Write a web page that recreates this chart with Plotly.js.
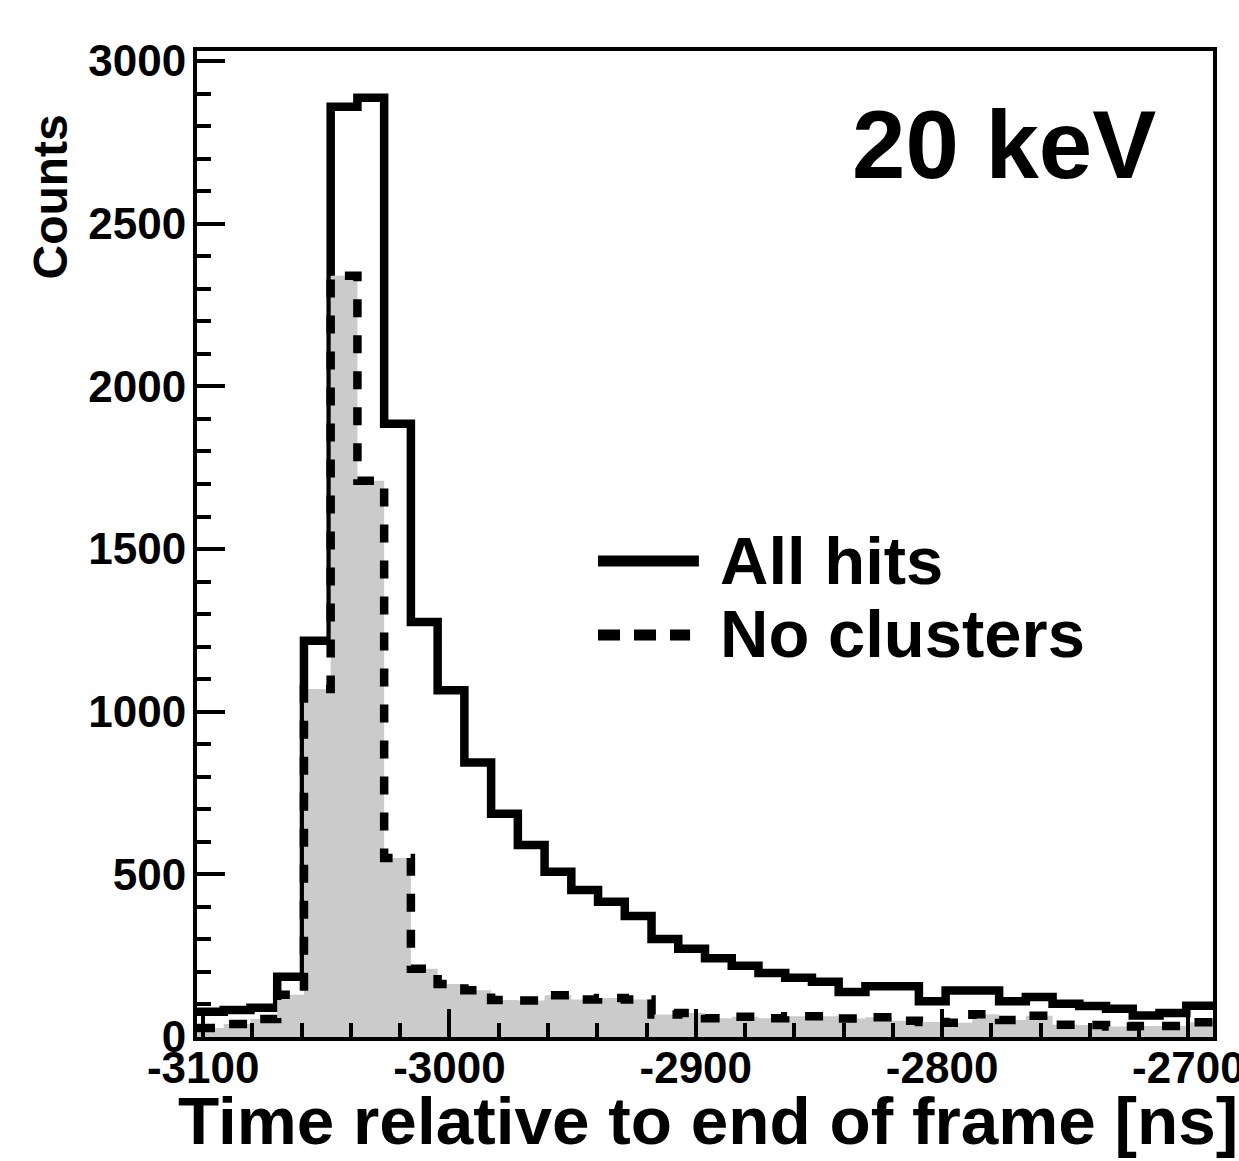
<!DOCTYPE html>
<html>
<head>
<meta charset="utf-8">
<script src="https://cdn.plot.ly/plotly-3.0.1.min.js"></script>
<style>
html,body{margin:0;padding:0;background:#fff;}
#chart{width:1239px;height:1161px;}
</style>
</head>
<body>
<div id="chart"></div>
<script>
// Histogram definition (ns)
const binStart = -3102.5;
const binWidth = 10.855;
// Counts per bin, "All hits" (solid line)
const allHits = [78, 83, 90, 185, 1218, 2860, 2887, 1885, 1276, 1066, 844, 686, 590, 508, 452, 416, 372, 301, 271, 242, 219, 197, 182, 170, 138, 156, 156, 110, 143, 143, 110, 123, 102, 95, 87, 66, 74, 96];
// Counts per bin, "No clusters" (dashed line, grey fill)
const noClusters = [28, 40, 55, 130, 1070, 2340, 1710, 550, 210, 163, 144, 114, 112, 128, 115, 120, 115, 69, 74, 58, 62, 58, 64, 64, 57, 61, 50, 46, 44, 70, 52, 65, 38, 37, 32, 34, 34, 45];
// Tick labels
const xTickVals = [-3100, -3000, -2900, -2800, -2700];
const xTickText = ["-3100", "-3000", "-2900", "-2800", "-2700"];
const yTickVals = [0, 500, 1000, 1500, 2000, 2500, 3000];
const yTickText = ["0", "500", "1000", "1500", "2000", "2500", "3000"];
const legendLabels = ["All hits", "No clusters"];
const energyLabel = "20 keV";
const xTitle = "Time relative to end of frame [ns]";
const yTitle = "Counts";

// step-histogram outline: left edges of bins + final right edge
function edges(n){ const e=[]; for(let i=0;i<=n;i++) e.push(binStart + i*binWidth); return e; }
function stepY(v){ return v.concat([v[v.length-1]]); }
const xe = edges(allHits.length);

const FONT = "Liberation Sans, Arial, Helvetica, sans-serif";

const traces = [
  {x: xe, y: stepY(allHits), type:'scatter', mode:'lines', line:{shape:'hv', color:'#000', width:8.5}, showlegend:false, name:legendLabels[0]},
  {x: xe, y: stepY(noClusters), type:'scatter', mode:'lines', line:{shape:'hv', color:'rgba(0,0,0,0)', width:0}, fill:'tozeroy', fillcolor:'#cbcbcb', showlegend:false, hoverinfo:'skip'},
  {x: xe, y: stepY(noClusters), type:'scatter', mode:'lines', line:{shape:'hv', color:'#000', width:8.5, dash:'18px,18px'}, showlegend:false, name:legendLabels[1]}
];

const layout = {
  width:1239, height:1161,
  margin:{l:197, r:26, t:51, b:124, pad:0},
  paper_bgcolor:'#fff', plot_bgcolor:'#fff',
  showlegend:false,
  font:{family:FONT, color:'#000'},
  xaxis:{
    range:[binStart, binStart + binWidth*allHits.length],
    showgrid:false, zeroline:false,
    showline:true, linecolor:'#000', linewidth:4, mirror:true,
    ticks:'inside', ticklen:28, tickwidth:4, tickcolor:'#000',
    tickmode:'array', tickvals:xTickVals, ticktext:xTickText,
    tickfont:{family:FONT, size:44, weight:'bold', color:'#000'},
    ticklabelstandoff:-11,
    ticklabeloverflow:'allow',
    minor:{ticks:'inside', ticklen:14, tickwidth:4, tickcolor:'#000', dtick:20, tick0:-3100, showgrid:false}
  },
  yaxis:{
    range:[0, 3031],
    showgrid:false, zeroline:false,
    showline:true, linecolor:'#000', linewidth:4, mirror:true,
    ticks:'inside', ticklen:28, tickwidth:4, tickcolor:'#000',
    tickmode:'array', tickvals:yTickVals, ticktext:yTickText,
    tickfont:{family:FONT, size:44, weight:'bold', color:'#000'},
    ticklabelstandoff:-2,
    ticklabeloverflow:'allow',
    minor:{ticks:'inside', ticklen:14, tickwidth:4, tickcolor:'#000', dtick:100, tick0:0, showgrid:false}
  },
  shapes:[
    {type:'line', xref:'paper', yref:'paper', x0:0.3947, x1:0.494, y0:0.4828, y1:0.4828, line:{color:'#000', width:11}},
    {type:'line', xref:'paper', yref:'paper', x0:0.3947, x1:0.4853, y0:0.4077, y1:0.4077, line:{color:'#000', width:11, dash:'22px,14px'}}
  ],
  annotations:[
    {text:energyLabel, xref:'paper', yref:'paper', x:0.9459, y:0.9047, xanchor:'right', yanchor:'middle', showarrow:false, font:{family:FONT, size:96, weight:'bold', color:'#000'}},
    {text:legendLabels[0], xref:'paper', yref:'paper', x:0.5127, y:0.4833, xanchor:'left', yanchor:'middle', showarrow:false, font:{family:FONT, size:67, weight:'bold', color:'#000'}},
    {text:legendLabels[1], xref:'paper', yref:'paper', x:0.5127, y:0.4092, xanchor:'left', yanchor:'middle', showarrow:false, font:{family:FONT, size:67, weight:'bold', color:'#000'}},
    {text:xTitle, xref:'paper', yref:'paper', x:0.5025, y:-0.0842, xanchor:'center', yanchor:'middle', showarrow:false, font:{family:FONT, size:67.5, weight:'bold', color:'#000'}},
    {text:yTitle, xref:'paper', yref:'paper', x:-0.1437, y:0.8514, xanchor:'center', yanchor:'middle', textangle:-90, showarrow:false, font:{family:FONT, size:48, weight:'bold', color:'#000'}}
  ]
};

Plotly.newPlot('chart', traces, layout, {staticPlot:true, displayModeBar:false});
</script>
</body>
</html>
